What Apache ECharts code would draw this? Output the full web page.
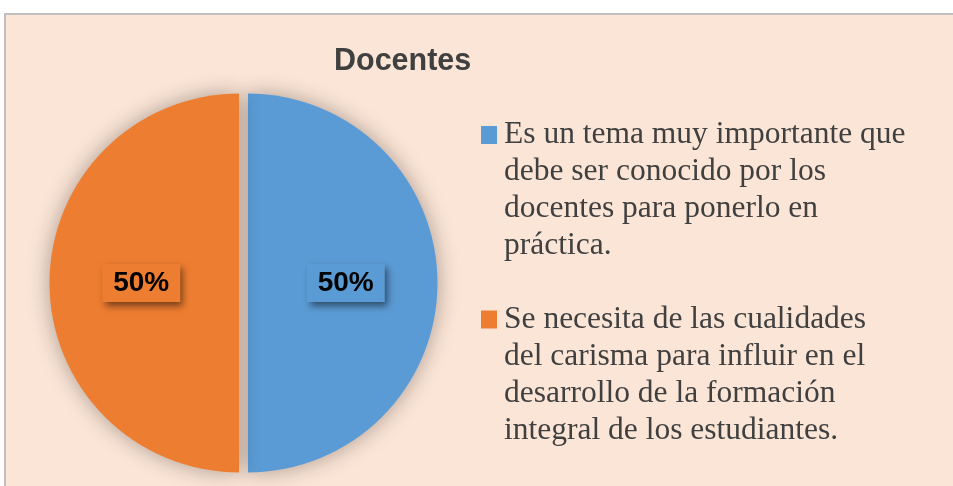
<!DOCTYPE html>
<html>
<head>
<meta charset="utf-8">
<script src="https://cdn.jsdelivr.net/npm/echarts@6/dist/echarts.min.js"></script>
<style>
  html, body { margin: 0; padding: 0; background: #fff; }
  #bg {
    position: absolute; left: 4px; top: 13px; width: 960px; height: 480px;
    background: #FBE5D6; border-top: 2px solid #BFBFBF; border-left: 2px solid #BFBFBF;
  }
  #chart { position: absolute; left: 0; top: 0; width: 953px; height: 486px; }
</style>
</head>
<body>
<div id="bg"></div>
<div id="chart"></div>
<script>
// datos del gráfico
var categorias = [
  'Es un tema muy importante que debe ser conocido por los docentes para ponerlo en práctica.',
  'Se necesita de las cualidades del carisma para influir en el desarrollo de la formación integral de los estudiantes.'
];
// texto de la leyenda partido en líneas como en el original
var lineasLeyenda = [
  ['Es un tema muy importante que', 'debe ser conocido por los', 'docentes para ponerlo en', 'práctica.'],
  ['Se necesita de las cualidades', 'del carisma para influir en el', 'desarrollo de la formación', 'integral de los estudiantes.']
];
var valores = [50, 50];
var colores = ['#5B9BD5', '#ED7D31'];

var LH = 37; // alto de línea de la leyenda

function leyenda(i, top) {
  return {
    data: [categorias[i]],
    orient: 'vertical',
    left: 481,
    top: top,
    padding: 0,
    icon: 'rect',
    itemWidth: 16,
    itemHeight: 18,
    selectedMode: false,
    // tres líneas vacías delante: así la primera línea queda centrada con el icono
    formatter: function () { return '\n\n\n' + lineasLeyenda[i].join('\n'); },
    textStyle: {
      fontFamily: '"Liberation Serif", "Times New Roman", serif',
      fontSize: 31.5,
      lineHeight: LH,
      color: '#404040',
      padding: [0, 0, 0, 2]
    }
  };
}

var chart = echarts.init(document.getElementById('chart'));
var option = {
  backgroundColor: 'transparent',
  animation: false,
  title: {
    text: 'Docentes',
    left: 329,
    top: 41,
    textStyle: {
      fontFamily: '"Liberation Sans", Arial, sans-serif',
      fontSize: 30.5,
      fontWeight: 'bold',
      color: '#404040'
    }
  },
  legend: [leyenda(0, 5.5), leyenda(1, 190)],
  series: [
    {
      type: 'pie',
      center: [243.5, 283],
      radius: 189.5,
      startAngle: 90,
      clockwise: true,
      // las porciones separadas dejan el hueco vertical del original
      selectedMode: 'multiple',
      selectedOffset: 4.5,
      emphasis: { disabled: true },
      data: categorias.map(function (c, i) {
        return {
          name: c,
          value: valores[i],
          selected: true,
          itemStyle: { color: colores[i] },
          label: { backgroundColor: colores[i] }
        };
      }),
      itemStyle: {
        borderWidth: 0,
        shadowBlur: 22,
        shadowColor: 'rgba(0,0,0,0.32)'
      },
      label: {
        show: true,
        position: 'inside',
        formatter: '{d}%',
        fontFamily: '"Liberation Sans", Arial, sans-serif',
        fontSize: 28,
        fontWeight: 'bold',
        color: '#000',
        padding: [6, 11, 4, 11],
        shadowBlur: 7,
        shadowOffsetX: 3,
        shadowOffsetY: 4,
        shadowColor: 'rgba(0,0,0,0.5)'
      },
      labelLine: { show: false }
    }
  ]
};
chart.setOption(option);
</script>
</body>
</html>
